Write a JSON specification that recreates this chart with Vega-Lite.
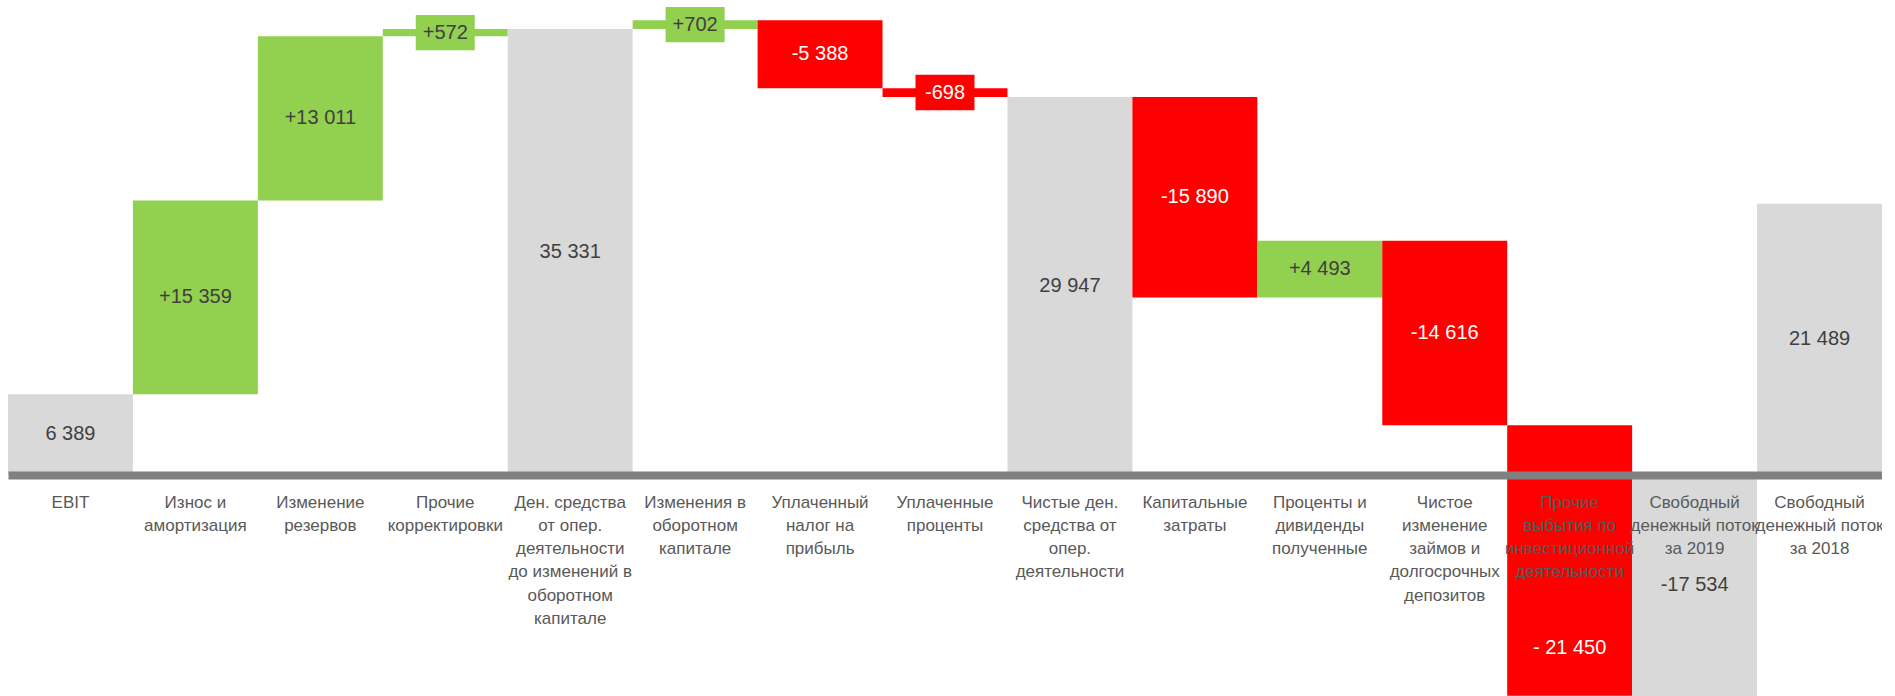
{
  "$schema": "https://vega.github.io/schema/vega-lite/v6.json",
  "width": 1874,
  "height": 696,
  "autosize": {"type": "none"},
  "padding": {"left": 8, "top": 0, "right": 0, "bottom": 0},
  "background": "white",
  "config": {"view": {"stroke": null}},
  "data": {
    "values": [
      {"cat": "EBIT", "start": 0, "end": 6389, "type": "total", "lbl": "6 389"},
      {"cat": "Износ и|амортизация", "start": 6389, "end": 21748, "type": "inc", "lbl": "+15 359"},
      {"cat": "Изменение|резервов", "start": 21748, "end": 34759, "type": "inc", "lbl": "+13 011"},
      {"cat": "Прочие|корректировки", "start": 34759, "end": 35331, "type": "inc", "lbl": "+572"},
      {"cat": "Ден. средства|от опер.|деятельности|до изменений в|оборотном|капитале", "start": 0, "end": 35331, "type": "total", "lbl": "35 331"},
      {"cat": "Изменения в|оборотном|капитале", "start": 35331, "end": 36033, "type": "inc", "lbl": "+702"},
      {"cat": "Уплаченный|налог на|прибыль", "start": 36033, "end": 30645, "type": "dec", "lbl": "-5 388"},
      {"cat": "Уплаченные|проценты", "start": 30645, "end": 29947, "type": "dec", "lbl": "-698"},
      {"cat": "Чистые ден.|средства от|опер.|деятельности", "start": 0, "end": 29947, "type": "total", "lbl": "29 947"},
      {"cat": "Капитальные|затраты", "start": 29947, "end": 14057, "type": "dec", "lbl": "-15 890"},
      {"cat": "Проценты и|дивиденды|полученные", "start": 14057, "end": 18550, "type": "inc", "lbl": "+4 493"},
      {"cat": "Чистое|изменение|займов и|долгосрочных|депозитов", "start": 18550, "end": 3934, "type": "dec", "lbl": "-14 616"},
      {"cat": "Прочие|выбытия по|инвестиционной|деятельности", "start": 3934, "end": -17516, "type": "dec", "lbl": "- 21 450"},
      {"cat": "Свободный|денежный поток|за 2019", "start": 0, "end": -17534, "type": "total", "lbl": "-17 534"},
      {"cat": "Свободный|денежный поток|за 2018", "start": 0, "end": 21489, "type": "total", "lbl": "21 489"}
    ]
  },
  "transform": [{"calculate": "(datum.start + datum.end) / 2", "as": "mid"}],
  "encoding": {
    "x": {
      "field": "cat",
      "type": "nominal",
      "sort": null,
      "scale": {"paddingInner": 0, "paddingOuter": 0},
      "axis": {
        "orient": "bottom",
        "offset": -221,
        "title": null,
        "ticks": false,
        "domain": true,
        "domainColor": "#808080",
        "domainWidth": 8,
        "labelAngle": 0,
        "labelFont": "Liberation Sans, Arial, sans-serif",
        "labelFontSize": 17,
        "labelColor": "#595959",
        "labelLineHeight": 23.3,
        "labelPadding": 19,
        "labelLimit": 0,
        "labelOverlap": false,
        "labelBound": false,
        "labelBaseline": "top",
        "labelExpr": "split(datum.label, '|')",
        "zindex": 1
      }
    }
  },
  "layer": [
    {
      "mark": {"type": "bar"},
      "encoding": {
        "y": {"field": "start", "type": "quantitative", "scale": {"domain": [-17534, 37630], "nice": false, "zero": false}, "axis": null},
        "y2": {"field": "end"},
        "color": {"field": "type", "type": "nominal", "scale": {"domain": ["total", "inc", "dec"], "range": ["#D9D9D9", "#92D050", "#FF0000"]}, "legend": null}
      }
    },
    {
      "transform": [{"filter": "abs(datum.end - datum.start) < 1000"}],
      "mark": {"type": "point", "shape": "M-1,-0.6L1,-0.6L1,0.6L-1,0.6Z", "filled": true, "opacity": 1, "size": 3480, "strokeWidth": 0},
      "encoding": {
        "y": {"field": "mid", "type": "quantitative"},
        "color": {"field": "type", "type": "nominal", "legend": null}
      }
    },
    {
      "transform": [{"filter": "datum.lbl !== '- 21 450'"}],
      "mark": {"type": "text", "font": "Liberation Sans, Arial, sans-serif", "fontSize": 20, "align": "center", "baseline": "middle"},
      "encoding": {
        "y": {"field": "mid", "type": "quantitative"},
        "text": {"field": "lbl"},
        "color": {"condition": {"test": "datum.type === 'dec'", "value": "#FFFFFF"}, "value": "#404040"}
      }
    },
    {
      "transform": [{"filter": "datum.lbl === '- 21 450'"}],
      "mark": {"type": "text", "font": "Liberation Sans, Arial, sans-serif", "fontSize": 20, "align": "center", "baseline": "middle", "dy": 88, "color": "#FFFFFF"},
      "encoding": {
        "y": {"field": "mid", "type": "quantitative"},
        "text": {"field": "lbl"}
      }
    }
  ]
}
